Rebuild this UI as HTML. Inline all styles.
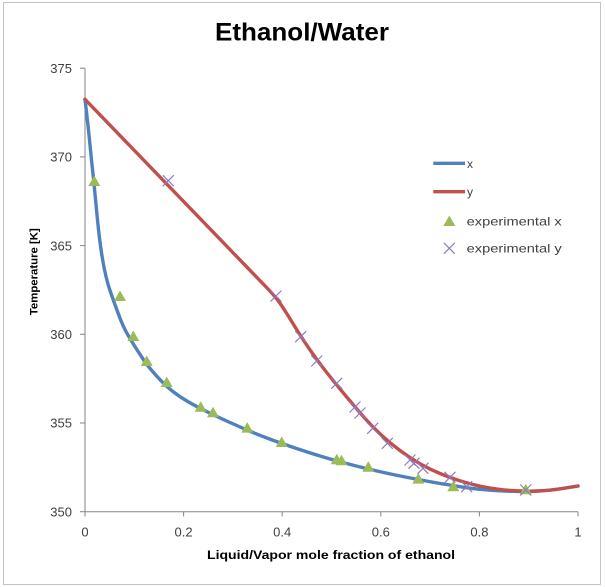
<!DOCTYPE html>
<html>
<head>
<meta charset="utf-8">
<style>
html,body{margin:0;padding:0;background:#fff;}
svg{display:block;}
text{font-family:"Liberation Sans",sans-serif;}
</style>
</head>
<body>
<svg width="605" height="587" viewBox="0 0 605 587" xmlns="http://www.w3.org/2000/svg">
<rect x="0" y="0" width="605" height="587" fill="#fff"/>
<rect x="3.5" y="2.5" width="597" height="582" fill="#fff" stroke="#c4c4c4" stroke-width="1"/>

<!-- Title -->
<text x="302" y="40.7" font-size="25" font-weight="bold" fill="#000" text-anchor="middle" textLength="174" lengthAdjust="spacingAndGlyphs">Ethanol/Water</text>

<!-- Axes -->
<g stroke="#868686" stroke-width="1" fill="none">
<line x1="85" y1="68.2" x2="85" y2="511.7"/>
<line x1="85" y1="511.7" x2="578" y2="511.7"/>
<line x1="80" y1="68.2" x2="85" y2="68.2"/>
<line x1="80" y1="156.9" x2="85" y2="156.9"/>
<line x1="80" y1="245.6" x2="85" y2="245.6"/>
<line x1="80" y1="334.3" x2="85" y2="334.3"/>
<line x1="80" y1="423" x2="85" y2="423"/>
<line x1="80" y1="511.7" x2="85" y2="511.7"/>
<line x1="85" y1="511.7" x2="85" y2="516.5"/>
<line x1="183.6" y1="511.7" x2="183.6" y2="516.5"/>
<line x1="282.2" y1="511.7" x2="282.2" y2="516.5"/>
<line x1="380.8" y1="511.7" x2="380.8" y2="516.5"/>
<line x1="479.4" y1="511.7" x2="479.4" y2="516.5"/>
<line x1="578" y1="511.7" x2="578" y2="516.5"/>
</g>

<!-- Y tick labels -->
<g font-size="13" fill="#404040" text-anchor="end">
<text x="72" y="72.9">375</text>
<text x="72" y="161.6">370</text>
<text x="72" y="250.3">365</text>
<text x="72" y="339">360</text>
<text x="72" y="427.7">355</text>
<text x="72" y="516.4">350</text>
</g>

<!-- X tick labels -->
<g font-size="13" fill="#404040" text-anchor="middle">
<text x="85" y="536.3">0</text>
<text x="183.6" y="536.3">0.2</text>
<text x="282.2" y="536.3">0.4</text>
<text x="380.8" y="536.3">0.6</text>
<text x="479.4" y="536.3">0.8</text>
<text x="578" y="536.3">1</text>
</g>

<!-- Axis titles -->
<text x="331" y="559" font-size="12" font-weight="bold" fill="#000" text-anchor="middle" textLength="248" lengthAdjust="spacingAndGlyphs">Liquid/Vapor mole fraction of ethanol</text>
<text transform="translate(37.3,271.7) rotate(-90)" x="0" y="0" font-size="11" font-weight="bold" fill="#000" text-anchor="middle" textLength="87" lengthAdjust="spacingAndGlyphs">Temperature [K]</text>

<!-- Blue x curve -->
<path fill="none" stroke="#4F81BD" stroke-width="3.4" stroke-linejoin="round" stroke-linecap="round"
d="M85,99.3 L86.5,112.15 Q88,125 89.25,137.5 Q90.5,150 91.25,157.5 Q92,165 92.85,172.5 Q93.7,180 94.85,192.5 Q96,205 97.25,217.5 Q98.5,230 99.75,240 Q101,250 102.5,259 Q104,268 106,276.5 Q108,285 110.65,292.5 Q113.3,300 115.65,306.5 Q118,313 120.65,319.85 Q123.3,326.7 126.15,331.85 Q129,337 132,341.85 Q135,346.7 138,351.35 Q141,356 143.85,360.25 Q146.7,364.5 151.35,370 Q156,375.5 161.35,381.1 Q166.7,386.7 173.35,391.85 Q180,397 188.35,401.85 Q196.7,406.7 208.35,412.35 Q220,418 230,422.5 Q240,427 250,431.25 Q260,435.5 270.85,439.5 Q281.7,443.5 295.85,448.25 Q310,453 323.35,457 Q336.7,461 352.35,465 Q368,469 381.5,472 Q395,475 406.5,477.25 Q418,479.5 429,481.5 Q440,483.5 446.5,484.5 Q453,485.5 461.5,486.9 Q470,488.3 480,489.3 Q490,490.3 500,490.8 Q510,491.3 518,491.45 Q526,491.6 538,491.05 Q550,490.5 564,488.25 L578,486"/>

<!-- Red y curve -->
<path fill="none" stroke="#C0504D" stroke-width="3.4" stroke-linejoin="round" stroke-linecap="round"
d="M85,99.3 L269,290 Q276,297.5 280,303.25 Q284,309 288,315.5 Q292,322 296,328.5 Q300,335 308.35,347.5 Q316.7,360 326.7,372.5 Q336.7,385 346.7,397 Q356.7,409 364.85,418.25 Q373,427.5 381.5,435.25 Q390,443 400,450.5 Q410,458 420,463.75 Q430,469.5 440,473.5 Q450,477.5 457.5,480 Q465,482.5 472.5,484.4 Q480,486.3 490,488 Q500,489.7 512.5,490.6 Q525,491.5 537.5,491 Q550,490.5 564,488.25 L578,486"/>

<!-- Experimental x (triangles) -->
<g fill="#9BBB59">
<polygon points="94.3,175.5 88.3,186 100.3,186"/>
<polygon points="120,290.5 114,301 126,301"/>
<polygon points="133.3,330.5 127.3,341 139.3,341"/>
<polygon points="146.7,355.5 140.7,366 152.7,366"/>
<polygon points="166.7,376.5 160.7,387 172.7,387"/>
<polygon points="200.7,401.3 194.7,411.8 206.7,411.8"/>
<polygon points="213,406.8 207,417.3 219,417.3"/>
<polygon points="247.3,422.1 241.3,432.6 253.3,432.6"/>
<polygon points="281.7,436.5 275.7,447 287.7,447"/>
<polygon points="336.7,453.8 330.7,464.3 342.7,464.3"/>
<polygon points="341.5,454.8 335.5,465.3 347.5,465.3"/>
<polygon points="368.3,461.3 362.3,471.8 374.3,471.8"/>
<polygon points="418.3,473.1 412.3,483.6 424.3,483.6"/>
<polygon points="453.3,480.8 447.3,491.3 459.3,491.3"/>
<polygon points="525.7,483.8 519.7,494.3 531.7,494.3"/>
</g>

<!-- Experimental y (crosses) -->
<g stroke="#8D7BBF" stroke-width="1.2" fill="none">
<path d="M162.8,175.2 L173.8,186.2 M173.8,175.2 L162.8,186.2"/>
<path d="M270.5,290.5 L281.5,301.5 M281.5,290.5 L270.5,301.5"/>
<path d="M295.2,331.2 L306.2,342.2 M306.2,331.2 L295.2,342.2"/>
<path d="M311.2,355.5 L322.2,366.5 M322.2,355.5 L311.2,366.5"/>
<path d="M331.2,377.8 L342.2,388.8 M342.2,377.8 L331.2,388.8"/>
<path d="M349.5,401.5 L360.5,412.5 M360.5,401.5 L349.5,412.5"/>
<path d="M354.5,407.5 L365.5,418.5 M365.5,407.5 L354.5,418.5"/>
<path d="M367.2,422.8 L378.2,433.8 M378.2,422.8 L367.2,433.8"/>
<path d="M381.8,437.8 L392.8,448.8 M392.8,437.8 L381.8,448.8"/>
<path d="M404.5,454.5 L415.5,465.5 M415.5,454.5 L404.5,465.5"/>
<path d="M408.5,457.8 L419.5,468.8 M419.5,457.8 L408.5,468.8"/>
<path d="M417.5,462.8 L428.5,473.8 M428.5,462.8 L417.5,473.8"/>
<path d="M444.5,471.8 L455.5,482.8 M455.5,471.8 L444.5,482.8"/>
<path d="M461.2,481.2 L472.2,492.2 M472.2,481.2 L461.2,492.2"/>
<path d="M520.2,484.5 L531.2,495.5 M531.2,484.5 L520.2,495.5"/>
</g>

<!-- Legend -->
<line x1="433.3" y1="163.3" x2="465" y2="163.3" stroke="#4F81BD" stroke-width="3.4"/>
<line x1="433.3" y1="191.7" x2="465" y2="191.7" stroke="#C0504D" stroke-width="3.4"/>
<polygon points="449.3,215.5 443.3,226 455.3,226" fill="#9BBB59"/>
<path d="M443.8,242.8 L454.8,253.8 M454.8,242.8 L443.8,253.8" stroke="#8D7BBF" stroke-width="1.2" fill="none"/>
<g font-size="12" fill="#404040">
<text x="467" y="167.8">x</text>
<text x="467" y="196">y</text>
<text x="466.7" y="225.5" textLength="95" lengthAdjust="spacingAndGlyphs">experimental x</text>
<text x="466.7" y="252.5" textLength="95" lengthAdjust="spacingAndGlyphs">experimental y</text>
</g>
</svg>
</body>
</html>
